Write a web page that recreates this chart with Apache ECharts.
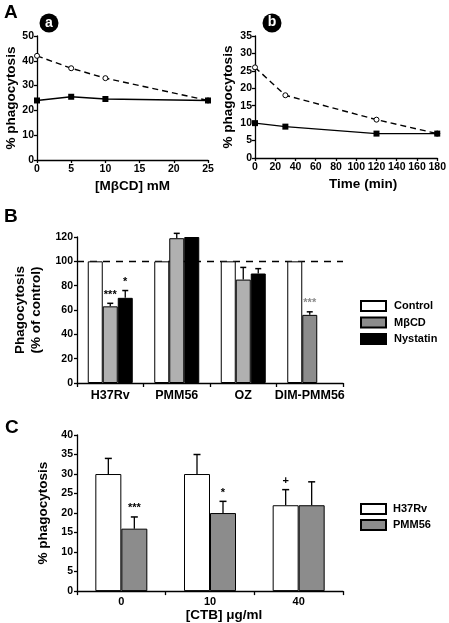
<!DOCTYPE html>
<html><head><meta charset="utf-8">
<script src="https://cdn.jsdelivr.net/npm/echarts@6/dist/echarts.min.js"></script>
<style>html,body{margin:0;padding:0;background:#fff}#c{width:449px;height:623px}</style>
</head><body><div id="c"></div>
<script>
// Panel A-a : MβCD concentration
const aX = [0, 5, 10, 25];
const aDashed = [42, 37, 33, 24];
const aSolid = [24, 25.5, 24.6, 24];
// Panel A-b : time
const bX = [0, 30, 120, 180];
const bDashed = [26, 18, 11, 7];
const bSolid = [10, 9, 7, 7];
// Panel B
const catB = ['H37Rv', 'PMM56', 'OZ', 'DIM-PMM56'];
const bControl = [100, 100, 100, 100];
const bMbcd = [63, 119, 85, 56];
const bMbcdErr = [2.5, 4, 10, 2.5];
const bNyst = [70, 120, 90, null];
const bNystErr = [6, 0, 4, null];
const bMbcdMark = ['***', '', '', '***'];
const bNystMark = ['*', '', '', ''];
// Panel C
const catC = ['0', '10', '40'];
const cH37 = [30, 30, 22];
const cH37Err = [4, 5, 4];
const cPmm = [16, 20, 22];
const cPmmErr = [3, 3, 6];
const cH37Mark = ['', '', '+'];
const cPmmMark = ['***', '*', ''];

const FONT = '"Liberation Sans", Arial, sans-serif';
const tickLbl = {color: '#000', fontFamily: FONT, fontWeight: 'bold', fontSize: 10.5};
const axLine = {lineStyle: {color: '#000', width: 1.3}};
const tick = {show: true, inside: false, length: 3, lineStyle: {color: '#000', width: 1.3}};
const nameStyle = (pad) => ({color: '#000', fontFamily: FONT, fontWeight: 'bold', fontSize: 13.5, padding: pad || 0});

function errRender(offsets, cap) {
  return function (params, api) {
    const cat = api.value(0), v = api.value(1), e = api.value(2), s = api.value(3);
    const base = api.coord([cat, v]);
    const top = api.coord([cat, v + e]);
    const x = base[0] + offsets[s];
    const children = [];
    if (e > 0) {
      children.push({type: 'line', shape: {x1: x, y1: base[1], x2: x, y2: top[1]}, style: {stroke: '#000', lineWidth: 1.3}});
      children.push({type: 'line', shape: {x1: x - cap, y1: top[1], x2: x + cap, y2: top[1]}, style: {stroke: '#000', lineWidth: 1.5}});
    }
    return {type: 'group', children: children};
  };
}
function markRender(offsets, marks, colors) {
  return function (params, api) {
    const cat = api.value(0), v = api.value(1), e = api.value(2), s = api.value(3), m = api.value(4);
    const top = api.coord([cat, v + e]);
    const x = top[0] + offsets[s];
    const txt = marks[m];
    return {type: 'text', x: x, y: top[1] - 3, style: {text: txt, textAlign: 'center', textVerticalAlign: 'bottom',
      fill: colors[m] || '#000', font: 'bold 11px ' + FONT}};
  };
}

// error bar data for B
const errB = [], markBData = [], markBText = [], markBColor = [];
catB.forEach((c, i) => {
  if (bMbcd[i] != null) errB.push([i, bMbcd[i], bMbcdErr[i], 1]);
  if (bNyst[i] != null && bNystErr[i] != null) errB.push([i, bNyst[i], bNystErr[i], 2]);
  if (bMbcdMark[i]) { markBText.push(bMbcdMark[i]); markBColor.push(i === 3 ? '#8a8a8a' : '#000'); markBData.push([i, bMbcd[i], bMbcdErr[i], 1, markBText.length - 1]); }
  if (bNystMark[i]) { markBText.push(bNystMark[i]); markBColor.push('#000'); markBData.push([i, bNyst[i], bNystErr[i], 2, markBText.length - 1]); }
});
const errC = [], markCData = [], markCText = [];
catC.forEach((c, i) => {
  errC.push([i, cH37[i], cH37Err[i], 0]);
  errC.push([i, cPmm[i], cPmmErr[i], 1]);
  if (cH37Mark[i]) { markCText.push(cH37Mark[i]); markCData.push([i, cH37[i], cH37Err[i], 0, markCText.length - 1]); }
  if (cPmmMark[i]) { markCText.push(cPmmMark[i]); markCData.push([i, cPmm[i], cPmmErr[i], 1, markCText.length - 1]); }
});

const BW_B = 15, BW_C = 26;
const offB = [-BW_B, 0, BW_B];
const offC = [-BW_C / 2, BW_C / 2];

const chart = echarts.init(document.getElementById('c'), null, {renderer: 'canvas'});
chart.setOption({
  animation: false,
  backgroundColor: '#fff',
  textStyle: {fontFamily: FONT},
  grid: [
    {left: 37, top: 36, width: 171, height: 124},
    {left: 255, top: 36, width: 183, height: 122},
    {left: 77, top: 237, width: 266, height: 146},
    {left: 77, top: 435, width: 266, height: 157}
  ],
  xAxis: [
    {gridIndex: 0, type: 'value', min: 0, max: 25, interval: 5, axisLine: axLine, axisTick: tick, splitLine: {show: false},
      axisLabel: Object.assign({margin: 4}, tickLbl), name: '[MβCD] mM', nameLocation: 'middle', nameGap: 19, nameTextStyle: nameStyle([0, 0, 0, 20])},
    {gridIndex: 1, type: 'value', min: 0, max: 180, interval: 20, axisLine: axLine, axisTick: tick, splitLine: {show: false},
      axisLabel: Object.assign({margin: 4}, tickLbl), name: 'Time (min)', nameLocation: 'middle', nameGap: 19, nameTextStyle: nameStyle([0, 0, 0, 34])},
    {gridIndex: 2, type: 'category', data: catB, axisLine: axLine, axisTick: {show: true, length: 4, lineStyle: {color: '#000', width: 1.3}},
      axisLabel: {color: '#000', fontFamily: FONT, fontWeight: 'bold', fontSize: 12.5, margin: 6, interval: 0, hideOverlap: false}},
    {gridIndex: 3, type: 'category', data: catC, axisLine: axLine, axisTick: {show: true, length: 4, lineStyle: {color: '#000', width: 1.3}},
      axisLabel: {color: '#000', fontFamily: FONT, fontWeight: 'bold', fontSize: 11, margin: 5, interval: 0},
      name: '[CTB] μg/ml', nameLocation: 'middle', nameGap: 16, nameTextStyle: nameStyle([0, 0, 0, 28])}
  ],
  yAxis: [
    {gridIndex: 0, type: 'value', min: 0, max: 50, interval: 10, axisLine: Object.assign({show: true}, axLine), axisTick: tick, splitLine: {show: false},
      axisLabel: Object.assign({margin: 3}, tickLbl), name: '% phagocytosis', nameLocation: 'middle', nameGap: 19, nameTextStyle: nameStyle()},
    {gridIndex: 1, type: 'value', min: 0, max: 35, interval: 5, axisLine: Object.assign({show: true}, axLine), axisTick: tick, splitLine: {show: false},
      axisLabel: Object.assign({margin: 3}, tickLbl), name: '% phagocytosis', nameLocation: 'middle', nameGap: 20, nameTextStyle: nameStyle()},
    {gridIndex: 2, type: 'value', min: 0, max: 120, interval: 20, axisLine: Object.assign({show: true}, axLine), axisTick: tick, splitLine: {show: false},
      axisLabel: Object.assign({margin: 4}, tickLbl), name: 'Phagocytosis\n(% of control)', nameLocation: 'middle', nameGap: 26,
      nameTextStyle: Object.assign(nameStyle(), {lineHeight: 16})},
    {gridIndex: 3, type: 'value', min: 0, max: 40, interval: 5, axisLine: Object.assign({show: true}, axLine), axisTick: tick, splitLine: {show: false},
      axisLabel: Object.assign({margin: 4}, tickLbl), name: '% phagocytosis', nameLocation: 'middle', nameGap: 27, nameTextStyle: nameStyle()}
  ],
  legend: [
    {data: ['Control', 'MβCD', 'Nystatin'], left: 355, top: 295, orient: 'vertical', icon: 'rect', itemWidth: 25, itemHeight: 10, itemGap: 4.5,
      textStyle: {color: '#000', fontFamily: FONT, fontWeight: 'bold', fontSize: 11, padding: [0, 0, 0, 3]}, selectedMode: false},
    {data: ['H37Rv', 'PMM56'], left: 355, top: 498, orient: 'vertical', icon: 'rect', itemWidth: 25, itemHeight: 10, itemGap: 4,
      textStyle: {color: '#000', fontFamily: FONT, fontWeight: 'bold', fontSize: 11, padding: [0, 0, 0, 2]}, selectedMode: false}
  ],
  series: [
    {name: 'a-dashed', type: 'line', xAxisIndex: 0, yAxisIndex: 0, data: aX.map((x, i) => [x, aDashed[i]]),
      lineStyle: {color: '#000', width: 1.4, type: [6, 4]}, symbol: 'circle', symbolSize: 5, itemStyle: {color: '#fff', borderColor: '#000', borderWidth: 1}, z: 3},
    {name: 'a-solid', type: 'line', xAxisIndex: 0, yAxisIndex: 0, data: aX.map((x, i) => [x, aSolid[i]]),
      lineStyle: {color: '#000', width: 1.4}, symbol: 'rect', symbolSize: 6, itemStyle: {color: '#000'}, z: 4},
    {name: 'b-dashed', type: 'line', xAxisIndex: 1, yAxisIndex: 1, data: bX.map((x, i) => [x, bDashed[i]]),
      lineStyle: {color: '#000', width: 1.4, type: [6, 4]}, symbol: 'circle', symbolSize: 5, itemStyle: {color: '#fff', borderColor: '#000', borderWidth: 1}, z: 3},
    {name: 'b-solid', type: 'line', xAxisIndex: 1, yAxisIndex: 1, data: bX.map((x, i) => [x, bSolid[i]]),
      lineStyle: {color: '#000', width: 1.4}, symbol: 'rect', symbolSize: 6, itemStyle: {color: '#000'}, z: 4},

    {name: 'Control', type: 'bar', xAxisIndex: 2, yAxisIndex: 2, data: bControl, barWidth: BW_B, barGap: '0%',
      itemStyle: {color: '#fff', borderColor: '#000', borderWidth: 1},
      markLine: {silent: true, symbol: 'none', label: {show: false}, lineStyle: {color: '#000', width: 1.4, type: [7, 6]}, data: [{yAxis: 100}], z: 1}},
    {name: 'MβCD', type: 'bar', xAxisIndex: 2, yAxisIndex: 2, barWidth: BW_B, barGap: '0%',
      data: bMbcd.map((v, i) => ({value: v, itemStyle: {color: i === 3 ? '#8c8c8c' : '#b0b0b0'}})),
      itemStyle: {color: '#8c8c8c', borderColor: '#000', borderWidth: 1}},
    {name: 'Nystatin', type: 'bar', xAxisIndex: 2, yAxisIndex: 2, data: bNyst, barWidth: BW_B, barGap: '0%',
      itemStyle: {color: '#000', borderColor: '#000', borderWidth: 1}},
    {name: 'errB', type: 'custom', xAxisIndex: 2, yAxisIndex: 2, data: errB, renderItem: errRender(offB, 3), z: 5, clip: false},
    {name: 'markB', type: 'custom', xAxisIndex: 2, yAxisIndex: 2, data: markBData, renderItem: markRender(offB, markBText, markBColor), z: 5, clip: false},

    {name: 'H37Rv', type: 'bar', xAxisIndex: 3, yAxisIndex: 3, data: cH37, barWidth: BW_C, barGap: '0%',
      itemStyle: {color: '#fff', borderColor: '#000', borderWidth: 1}},
    {name: 'PMM56', type: 'bar', xAxisIndex: 3, yAxisIndex: 3, data: cPmm, barWidth: BW_C, barGap: '0%',
      itemStyle: {color: '#8c8c8c', borderColor: '#000', borderWidth: 1}},
    {name: 'errC', type: 'custom', xAxisIndex: 3, yAxisIndex: 3, data: errC, renderItem: errRender(offC, 3.5), z: 5, clip: false},
    {name: 'markC', type: 'custom', xAxisIndex: 3, yAxisIndex: 3, data: markCData, renderItem: markRender(offC, markCText, []), z: 5, clip: false}
  ],
  graphic: [
    {type: 'text', left: 4, top: 3, style: {text: 'A', font: 'bold 19px ' + FONT, fill: '#000'}},
    {type: 'text', left: 4, top: 207, style: {text: 'B', font: 'bold 19px ' + FONT, fill: '#000'}},
    {type: 'text', left: 5, top: 418, style: {text: 'C', font: 'bold 19px ' + FONT, fill: '#000'}},
    {type: 'circle', shape: {cx: 49, cy: 23, r: 9.5}, style: {fill: '#000'}},
    {type: 'text', x: 49, y: 23, style: {text: 'a', font: 'bold 14px ' + FONT, fill: '#fff', textAlign: 'center', textVerticalAlign: 'middle'}},
    {type: 'circle', shape: {cx: 272, cy: 23, r: 9.5}, style: {fill: '#000'}},
    {type: 'text', x: 272, y: 22, style: {text: 'b', font: 'bold 14px ' + FONT, fill: '#fff', textAlign: 'center', textVerticalAlign: 'middle'}}
  ]
});
</script>
</body></html>
